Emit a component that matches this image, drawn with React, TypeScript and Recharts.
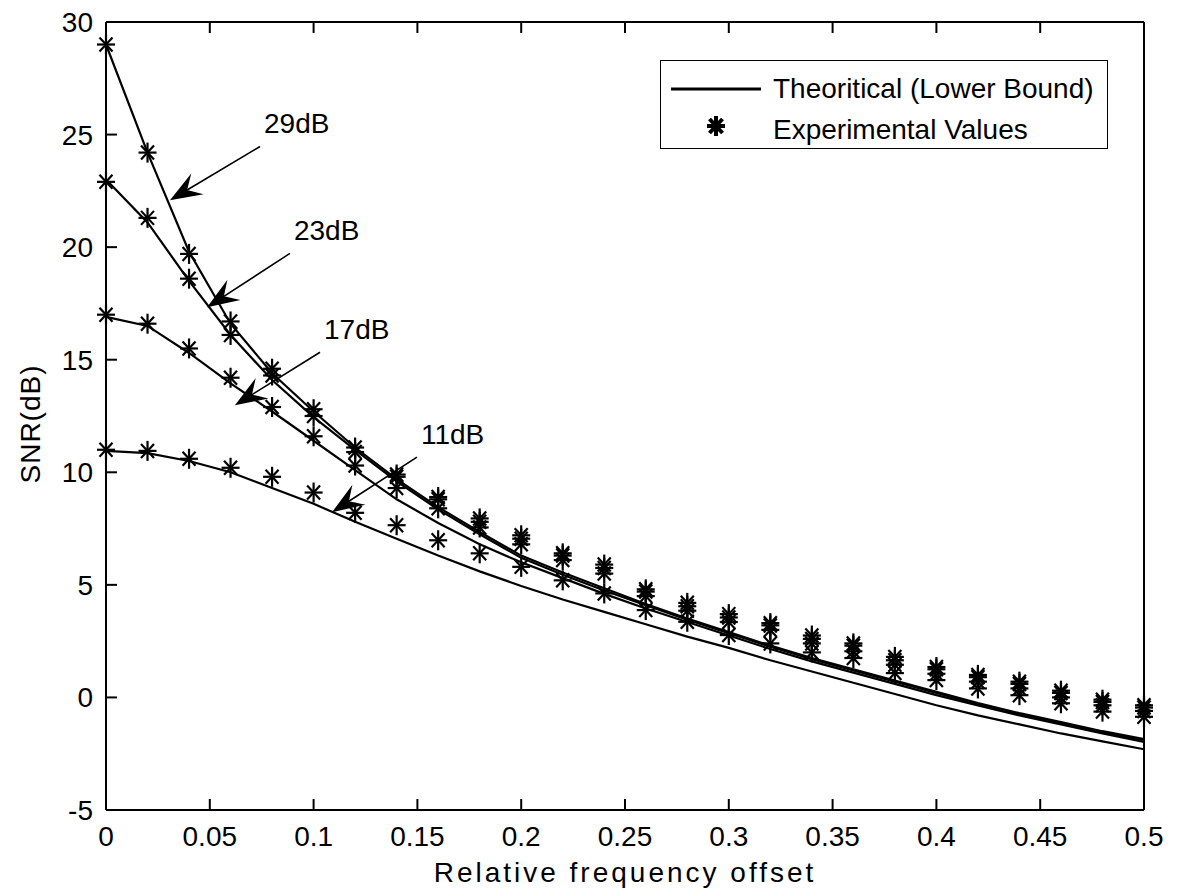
import { ComposedChart, Line, XAxis, YAxis, ReferenceLine } from 'recharts';

// relative frequency offset of every sample
const freqOffset = [
  0, 0.02, 0.04, 0.06, 0.08, 0.1, 0.12, 0.14, 0.16, 0.18, 0.2, 0.22, 0.24,
  0.26, 0.28, 0.3, 0.32, 0.34, 0.36, 0.38, 0.4, 0.42, 0.44, 0.46, 0.48, 0.5,
];

// theoretical lower bound, SNR(dB)
const theory29 = [29.0, 24.2, 19.8, 16.6, 14.4, 12.7, 11.1, 9.7, 8.45, 7.35, 6.3, 5.55, 4.85, 4.15, 3.5, 2.9, 2.3, 1.75, 1.25, 0.75, 0.25, -0.25, -0.7, -1.1, -1.5, -1.85];
const theory23 = [23.0, 21.1, 18.5, 16.1, 14.1, 12.45, 11.0, 9.6, 8.35, 7.25, 6.2, 5.45, 4.75, 4.1, 3.45, 2.85, 2.25, 1.7, 1.2, 0.7, 0.2, -0.3, -0.75, -1.15, -1.55, -1.9];
const theory17 = [16.9, 16.5, 15.3, 13.95, 12.7, 11.4, 10.1, 8.8, 7.75, 6.8, 6.0, 5.3, 4.6, 3.95, 3.35, 2.75, 2.15, 1.6, 1.1, 0.6, 0.1, -0.35, -0.8, -1.2, -1.6, -1.98];
const theory11 = [10.95, 10.85, 10.5, 10.0, 9.3, 8.6, 7.8, 7.05, 6.3, 5.6, 4.95, 4.35, 3.8, 3.25, 2.7, 2.2, 1.65, 1.15, 0.65, 0.15, -0.35, -0.8, -1.2, -1.6, -1.95, -2.3];

// experimental values, SNR(dB)
const exp29 = [29.0, 24.2, 19.7, 16.7, 14.6, 12.8, 11.1, 9.9, 8.9, 7.95, 7.2, 6.4, 5.9, 4.8, 4.2, 3.7, 3.3, 2.75, 2.4, 1.8, 1.35, 1.0, 0.7, 0.3, -0.1, -0.35];
const exp23 = [22.9, 21.3, 18.6, 16.1, 14.3, 12.5, 10.9, 9.8, 8.8, 7.8, 7.05, 6.3, 5.75, 4.7, 4.05, 3.55, 3.2, 2.6, 2.3, 1.65, 1.25, 0.9, 0.6, 0.2, -0.2, -0.45];
const exp17 = [17.0, 16.6, 15.5, 14.2, 12.9, 11.6, 10.3, 9.3, 8.4, 7.55, 6.8, 6.1, 5.5, 4.5, 3.85, 3.35, 3.0, 2.4, 2.05, 1.45, 1.05, 0.7, 0.4, 0.0, -0.35, -0.6];
const exp11 = [11.0, 10.95, 10.6, 10.2, 9.8, 9.1, 8.2, 7.65, 6.98, 6.4, 5.8, 5.2, 4.62, 3.88, 3.36, 2.77, 2.4, 2.0, 1.75, 1.08, 0.77, 0.4, 0.1, -0.26, -0.63, -0.86];

const xTicks = [0, 0.05, 0.1, 0.15, 0.2, 0.25, 0.3, 0.35, 0.4, 0.45, 0.5];
const yTicks = [-5, 0, 5, 10, 15, 20, 25, 30];

// arrow labels: tail and tip in data units
const arrowNotes = [
  { label: '29dB', tail: [0.0742, 24.47], tip: [0.0308, 22.08] },
  { label: '23dB', tail: [0.0886, 19.72], tip: [0.0487, 17.33] },
  { label: '17dB', tail: [0.1031, 15.33], tip: [0.0621, 12.98] },
  { label: '11dB', tail: [0.1498, 10.67], tip: [0.1089, 8.23] },
];

const rows = freqOffset.map((x, i) => ({
  x,
  t29: theory29[i], t23: theory23[i], t17: theory17[i], t11: theory11[i],
  e29: exp29[i], e23: exp23[i], e17: exp17[i], e11: exp11[i],
}));

const font = '"Liberation Sans", Arial, Helvetica, sans-serif';
const tickStyle = { fill: '#000', fontSize: 28, fontFamily: font };

function Asterisk({ cx, cy, w = 2.2 }: { cx: number; cy: number; w?: number }) {
  if (cx == null || cy == null) return null;
  return (
    <g stroke="#000" strokeWidth={w}>
      <line x1={cx - 9} y1={cy} x2={cx + 9} y2={cy} />
      <line x1={cx} y1={cy - 10} x2={cx} y2={cy + 10} />
      <line x1={cx - 6.5} y1={cy - 7} x2={cx + 6.5} y2={cy + 7} />
      <line x1={cx - 6.5} y1={cy + 7} x2={cx + 6.5} y2={cy - 7} />
    </g>
  );
}

function Arrow(p: any) {
  const { x1, y1, x2, y2, text } = p;
  const dx = x1 - x2;
  const dy = y1 - y2;
  const len = Math.sqrt(dx * dx + dy * dy);
  const ux = dx / len;
  const uy = dy / len;
  const nx = -uy;
  const ny = ux;
  const L = 32;
  const W = 12;
  const N = 20;
  const head = [
    [x2, y2],
    [x2 + ux * L + nx * W, y2 + uy * L + ny * W],
    [x2 + ux * N, y2 + uy * N],
    [x2 + ux * L - nx * W, y2 + uy * L - ny * W],
  ].map((q) => q.join(',')).join(' ');
  return (
    <g>
      <line x1={x1} y1={y1} x2={x2 + ux * N} y2={y2 + uy * N} stroke="#000" strokeWidth={1.6} />
      <polygon points={head} fill="#000" />
      <text x={x1 + 4} y={y1 - 21} dominantBaseline="middle" fontSize={28} fontFamily={font} fill="#000">
        {text}
      </text>
    </g>
  );
}

function LegendBox() {
  return (
    <div
      style={{
        position: 'absolute', left: 660, top: 60, width: 446, height: 87,
        border: '1.5px solid #000', background: '#fff', fontFamily: font, fontSize: 28,
      }}
    >
      <svg width={110} height={87} style={{ position: 'absolute', left: 0, top: 0 }}>
        <line x1={10} y1={28} x2={100} y2={28} stroke="#000" strokeWidth={3} />
        <Asterisk cx={55} cy={65} w={4} />
      </svg>
      <div style={{ position: 'absolute', left: 112, top: 10, lineHeight: '36px', whiteSpace: 'nowrap' }}>
        Theoritical (Lower Bound)
      </div>
      <div style={{ position: 'absolute', left: 112, top: 51, lineHeight: '36px', whiteSpace: 'nowrap' }}>
        Experimental Values
      </div>
    </div>
  );
}

export default function App() {
  const series = [
    ['t29', 'e29'],
    ['t23', 'e23'],
    ['t17', 'e17'],
    ['t11', 'e11'],
  ];
  return (
    <div style={{ position: 'absolute', left: 0, top: 0, width: 1179, height: 896, background: '#fff' }}>
      <ComposedChart width={1179} height={896} data={rows} margin={{ top: 21, right: 34, bottom: 6, left: 0 }}>
        <XAxis
          dataKey="x" type="number" domain={[0, 0.5]} ticks={xTicks} interval={0}
          tickFormatter={(v) => String(v)} tick={tickStyle}
          tickSize={-11} tickMargin={27} height={80}
          axisLine={{ stroke: '#000', strokeWidth: 2 }} tickLine={{ stroke: '#000', strokeWidth: 2 }}
          label={{ value: 'Relative frequency offset', position: 'insideBottom', offset: 8, fill: '#000', fontSize: 28, fontFamily: font, letterSpacing: 3 }}
        />
        <XAxis
          xAxisId="top" orientation="top" dataKey="x" type="number" domain={[0, 0.5]} ticks={xTicks}
          interval={0} tick={() => <g />} tickSize={-11} height={1}
          axisLine={{ stroke: '#000', strokeWidth: 2 }} tickLine={{ stroke: '#000', strokeWidth: 2 }}
        />
        <YAxis
          type="number" domain={[-5, 30]} ticks={yTicks} interval={0} tick={tickStyle}
          tickSize={-11} tickMargin={24} width={106}
          axisLine={{ stroke: '#000', strokeWidth: 2 }} tickLine={{ stroke: '#000', strokeWidth: 2 }}
          label={{ value: 'SNR(dB)', angle: -90, position: 'center', dx: -23, dy: 8, fill: '#000', fontSize: 28, fontFamily: font, letterSpacing: 1 }}
        />
        <YAxis
          yAxisId="right" orientation="right" type="number" domain={[-5, 30]} ticks={yTicks}
          interval={0} tick={() => <g />} tickSize={-11} width={1}
          axisLine={{ stroke: '#000', strokeWidth: 2 }} tickLine={{ stroke: '#000', strokeWidth: 2 }}
        />
        {series.map(([t]) => (
          <Line
            key={t} dataKey={t} type="linear" stroke="#000" strokeWidth={2.2}
            dot={false} activeDot={false} isAnimationActive={false} legendType="none"
          />
        ))}
        {series.map(([, e]) => (
          <Line
            key={e} dataKey={e} stroke="none" isAnimationActive={false} activeDot={false} legendType="none"
            dot={(p: any) => <Asterisk key={`${e}-${p.index}`} cx={p.cx} cy={p.cy} />}
          />
        ))}
        {arrowNotes.map((a) => (
          <ReferenceLine
            key={a.label}
            segment={[{ x: a.tail[0], y: a.tail[1] }, { x: a.tip[0], y: a.tip[1] }]}
            shape={(p: any) => <Arrow {...p} text={a.label} />}
          />
        ))}
      </ComposedChart>
      <LegendBox />
    </div>
  );
}
